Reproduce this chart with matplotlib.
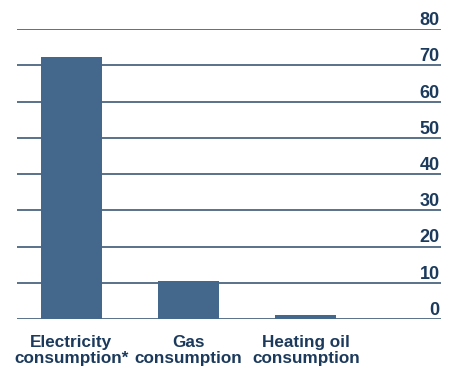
import matplotlib
matplotlib.use('Agg')
import matplotlib.pyplot as plt

# data
categories = ['Electricity\nconsumption*', 'Gas\nconsumption', 'Heating oil\nconsumption']
values = [72.3, 10.5, 1.1]
yticks = [0, 10, 20, 30, 40, 50, 60, 70, 80]

navy = '#1b3a5c'
bar_col = '#44678c'
grid_col = '#2c4a6b'

plt.rcParams['font.family'] = ['Liberation Sans', 'DejaVu Sans']

fig = plt.figure(figsize=(4.54, 3.72), dpi=100)
ax = fig.add_axes([17/454, 1 - 319/372, (441 - 17)/454, (319 - 29)/372])

x = range(len(values))
ax.bar(x, values, width=0.52, color=bar_col, zorder=3)

ax.set_ylim(0, 80)
ax.set_xlim(-0.464, 3.153)
ax.set_yticks(yticks)
for v in yticks:
    ax.axhline(v, color=grid_col, lw=1.1, zorder=1)

for s in ax.spines.values():
    s.set_visible(False)

ax.yaxis.tick_right()
ax.tick_params(axis='y', length=0, pad=-1, labelsize=13, labelcolor=navy)
for lab in ax.get_yticklabels():
    lab.set_ha('right')
    lab.set_va('bottom')
    lab.set_fontweight('bold')

ax.set_xticks(list(x))
ax.set_xticklabels(categories, fontsize=12.3, fontweight='bold', color=navy, linespacing=1.1)
ax.tick_params(axis='x', length=0, pad=11.5)

fig.savefig('out.png', dpi=100)
